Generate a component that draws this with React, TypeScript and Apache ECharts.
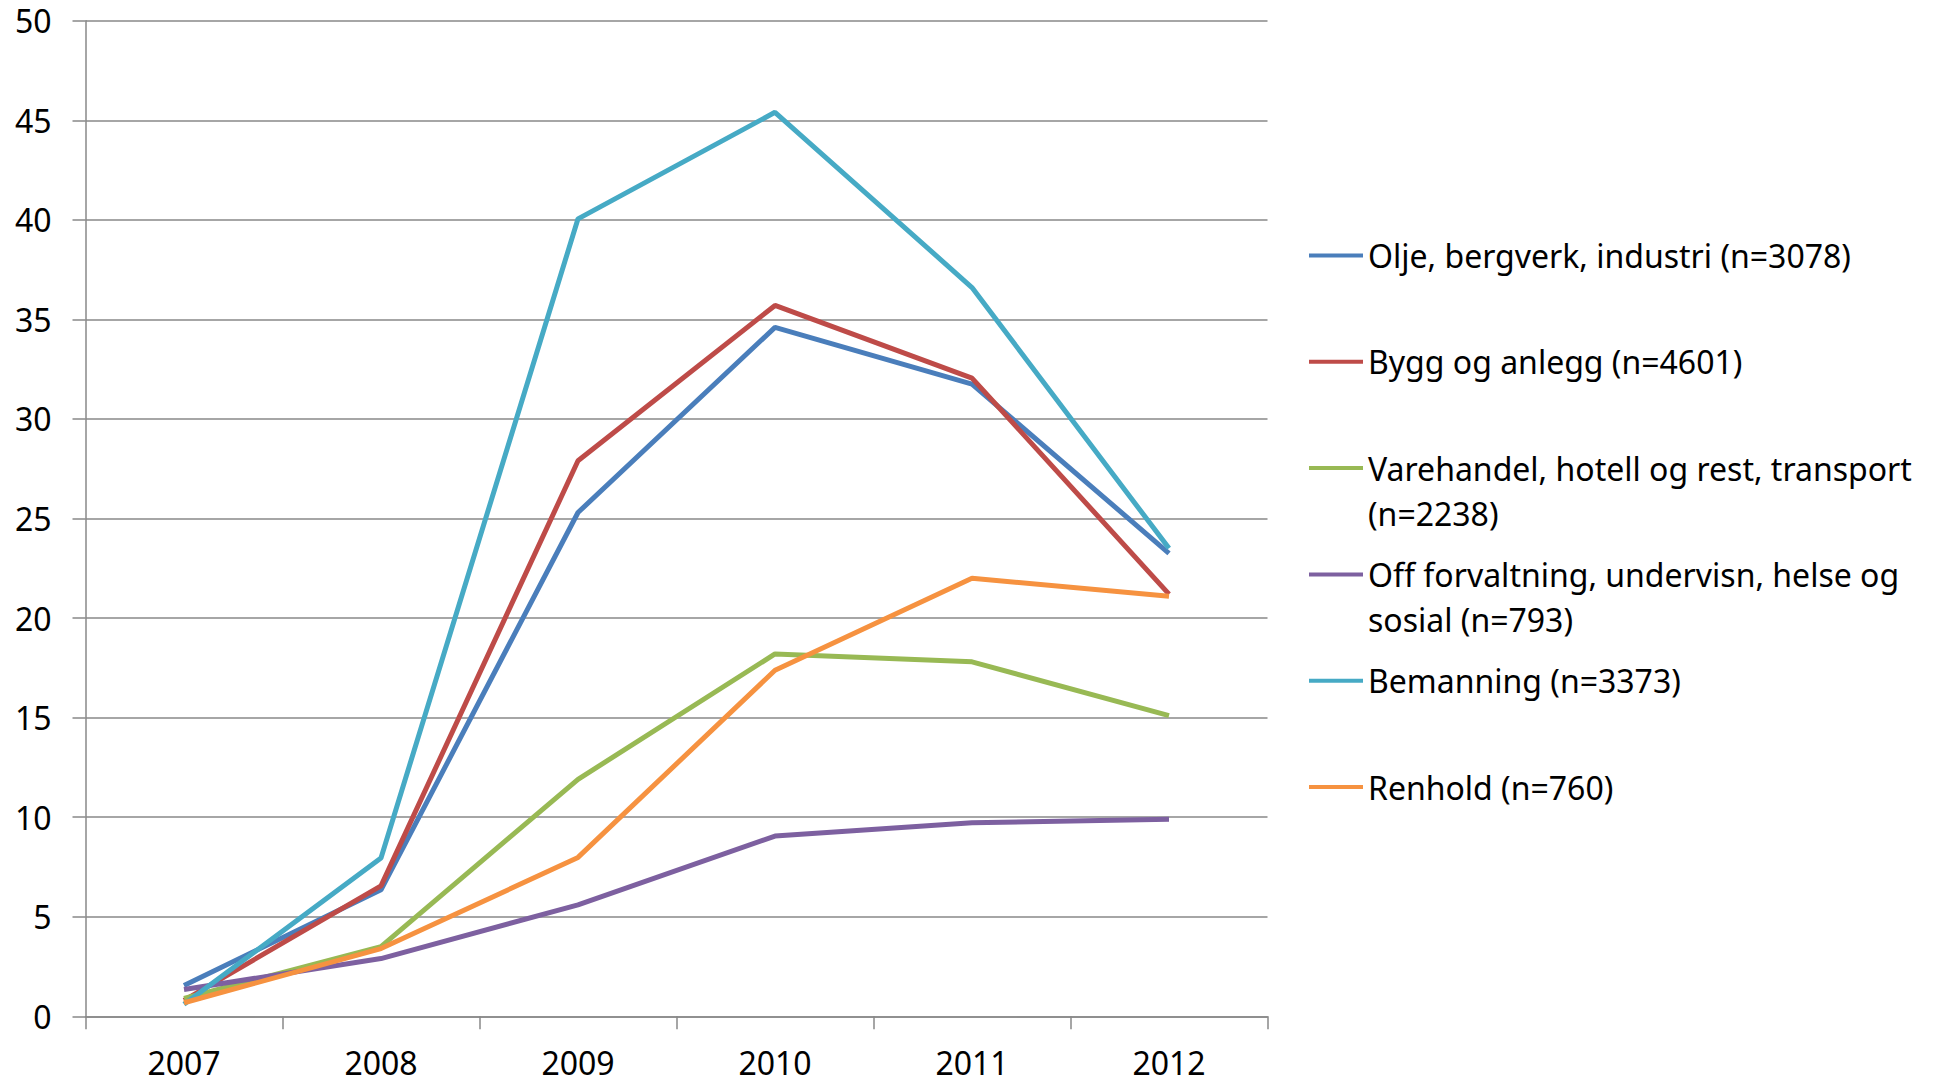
import React, { useEffect, useRef } from "react";
import * as echarts from "echarts";

const years = ["2007", "2008", "2009", "2010", "2011", "2012"];

const seriesNames = [
  "Olje, bergverk, industri (n=3078)",
  "Bygg og anlegg (n=4601)",
  "Varehandel, hotell og rest, transport (n=2238)",
  "Off forvaltning, undervisn, helse og sosial (n=793)",
  "Bemanning (n=3373)",
  "Renhold (n=760)",
];

const legendLabels = [
  ["Olje, bergverk, industri (n=3078)"],
  ["Bygg og anlegg (n=4601)"],
  ["Varehandel, hotell og rest, transport", "(n=2238)"],
  ["Off forvaltning, undervisn, helse og", "sosial (n=793)"],
  ["Bemanning (n=3373)"],
  ["Renhold (n=760)"],
];

const olje = [1.55, 6.35, 25.3, 34.6, 31.75, 23.25];
const bygg = [0.8, 6.55, 27.9, 35.7, 32.05, 21.2];
const varehandel = [0.9, 3.5, 11.9, 18.2, 17.8, 15.1];
const offentlig = [1.35, 2.9, 5.6, 9.05, 9.72, 9.9];
const bemanning = [0.6, 7.95, 40.05, 45.4, 36.6, 23.5];
const renhold = [0.68, 3.4, 7.98, 17.38, 22.0, 21.1];

const seriesValues = [olje, bygg, varehandel, offentlig, bemanning, renhold];
const colors = ["#4A7EBB", "#BE4B48", "#98B954", "#7D60A0", "#46AAC5", "#F69240"];

const yTicks = { min: 0, max: 50, interval: 5 };

const FONT = "Noto Sans";
const FS = 32;

export default function App() {
  const ref = useRef<HTMLDivElement>(null);

  useEffect(() => {
    if (!ref.current) return;
    const chart = echarts.init(ref.current, null, { renderer: "svg" });
    const labelMap: Record<string, string> = {};
    seriesNames.forEach((n, i) => {
      const l = legendLabels[i];
      labelMap[n] = l.length === 1 ? "\n" + l[0] + "\n" : "\n" + l[0] + "\n" + l[1];
    });
    chart.setOption({
      animation: false,
      backgroundColor: "#ffffff",
      color: colors,
      grid: {
        left: 85.5,
        right: 675.5,
        top: 20.7,
        bottom: 67.7,
        containLabel: false,
      },
      legend: {
        orient: "vertical",
        left: 1304,
        top: 183,
        icon: "rect",
        itemWidth: 54,
        itemHeight: 4,
        itemGap: -28.7,
        selectedMode: false,
        data: seriesNames,
        formatter: (name: string) => labelMap[name],
        textStyle: {
          fontFamily: FONT,
          fontSize: FS,
          color: "#000",
          lineHeight: 45,
        },
      },
      xAxis: {
        type: "category",
        data: years,
        boundaryGap: true,
        axisLine: { show: true, lineStyle: { color: "#888", width: 1.5 } },
        axisTick: { show: true, length: 13, interval: 0, lineStyle: { color: "#888", width: 1.5 } },
        axisLabel: { fontFamily: FONT, fontSize: FS, color: "#000", margin: 30 },
        splitLine: { show: false },
      },
      yAxis: {
        type: "value",
        min: yTicks.min,
        max: yTicks.max,
        interval: yTicks.interval,
        axisLine: { show: true, lineStyle: { color: "#888", width: 1.5 } },
        axisTick: { show: true, length: 13, lineStyle: { color: "#888", width: 1.5 } },
        axisLabel: { fontFamily: FONT, fontSize: FS, color: "#000", margin: 34 },
        splitLine: { show: true, lineStyle: { color: "#888", width: 1.5 } },
      },
      series: seriesNames.map((name, i) => ({
        name,
        type: "line",
        data: seriesValues[i],
        symbol: "none",
        lineStyle: { width: 5, color: colors[i] },
        itemStyle: { color: colors[i] },
      })),
    });
    return () => chart.dispose();
  }, []);

  return (
    <div
      ref={ref}
      style={{ position: "fixed", left: 0, top: 0, width: 1943, height: 1084, background: "#fff" }}
    />
  );
}
